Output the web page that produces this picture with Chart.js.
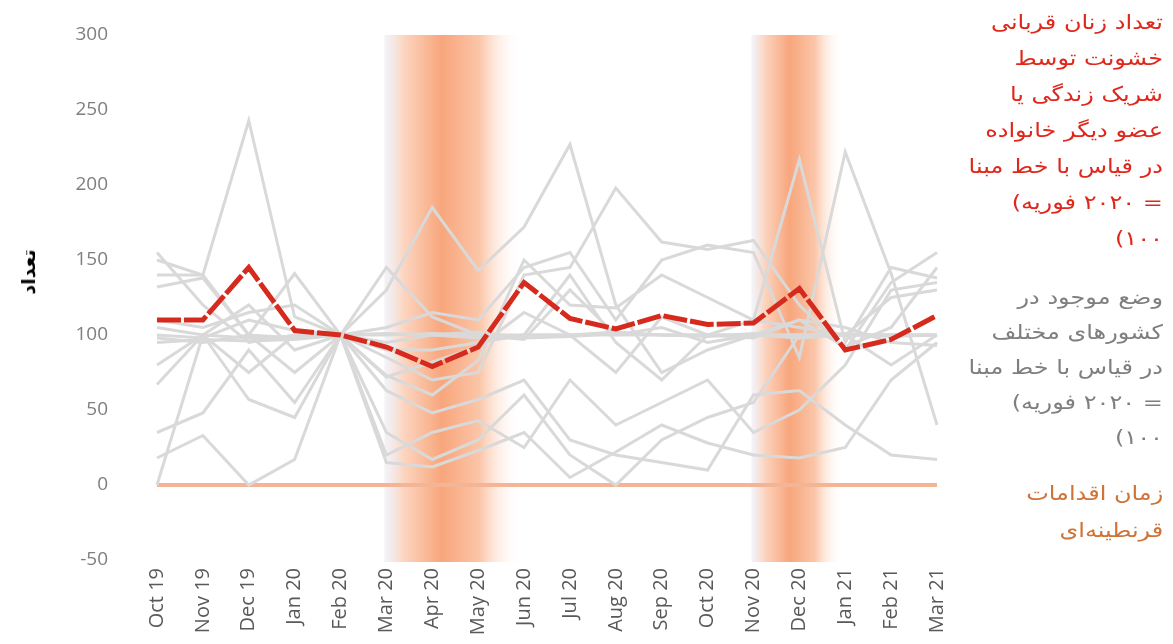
<!DOCTYPE html>
<html lang="fa">
<head>
<meta charset="UTF-8" />
<title>خشونت علیه زنان در قیاس با خط مبنا</title>
<script src="https://cdn.jsdelivr.net/npm/chart.js"></script>
<style>
  body { margin:0; background:#fff; }
  .wrap { position:relative; width:1173px; height:644px; overflow:hidden; }
  canvas { position:absolute; left:0; top:0; }
  .legend { position:absolute; right:10px; text-align:right; font-family:'DejaVu Sans',sans-serif; font-size:20px;
    white-space:nowrap; transform:scaleX(1.2); transform-origin:right center; }
  .legend div { direction:rtl; }
  .legend div.ltr { direction:ltr; }
  .legend div.ltr span { display:inline-block; direction:ltr; }
  .red { color:#e0271c; top:4px; line-height:36px; }
  .gray { color:#7f7f7f; top:280px; line-height:35px; }
  .orange { color:#cf7338; top:475px; line-height:37px; }
  .ytitle { position:absolute; left:28px; top:272px; transform:translate(-50%,-50%) rotate(-90deg);
    font-family:'DejaVu Sans',sans-serif; font-weight:bold; font-size:19px; color:#000; direction:rtl; white-space:nowrap; }
</style>
</head>
<body>
<div class="wrap">
  <canvas id="chart" width="1173" height="644"></canvas>
  <div class="ytitle">تعداد</div>
  <div class="legend red">
    <div>تعداد زنان قربانی</div>
    <div>خشونت توسط</div>
    <div>شریک زندگی یا</div>
    <div>عضو دیگر خانواده</div>
    <div>در قیاس با خط مبنا</div>
    <div class="ltr"><span>(</span><span>فوریه</span> <span>۲۰۲۰</span> <span>=</span></div>
    <div class="ltr"><span>(</span><span>۱۰۰</span></div>
  </div>
  <div class="legend gray">
    <div>وضع موجود در</div>
    <div>کشورهای مختلف</div>
    <div>در قیاس با خط مبنا</div>
    <div class="ltr"><span>(</span><span>فوریه</span> <span>۲۰۲۰</span> <span>=</span></div>
    <div class="ltr"><span>(</span><span>۱۰۰</span></div>
  </div>
  <div class="legend orange">
    <div>زمان اقدامات</div>
    <div>قرنطینه‌ای</div>
  </div>
</div>

<script>
// months (Feb 20 = 100 baseline)
const months = ['Oct 19','Nov 19','Dec 19','Jan 20','Feb 20','Mar 20','Apr 20','May 20','Jun 20',
  'Jul 20','Aug 20','Sep 20','Oct 20','Nov 20','Dec 20','Jan 21','Feb 21','Mar 21'];
const yTicks = [-50, 0, 50, 100, 150, 200, 250, 300];

// women victims of violence by partner / family member
const victims = [110,110,145,103,100,92,79,92,135,111,104,113,107,108,131,90,97,113];

// individual countries (grey)
const countryA = [155,120, 95,100,100,145,112,100, 97,130,100,105, 95,100, 98,100,100,100];
const countryB = [140,140,243,112,100, 95,100, 98,100,100,102,100,100,100,100,100,100,100];
const countryC = [132,138,100,141,100,130,185,143,172,227,120, 75, 90,100,110, 92,105,145];
const countryD = [100, 98,110,103,100, 85, 70, 75,140,145,198,162,157,163,120, 90,135,155];
const countryE = [105,100, 98, 99,100,100,101,100,100,100,100,100,100,100,100,100,100,100];
const countryF = [ 95, 97, 96, 97,100,101,100,102, 98, 99,101,100, 99,101, 98,101, 99,100];
const countryG = [ 67,100, 57, 45,100, 73, 60, 83,150,120,118,140,125,110,217, 95,145,138];
const countryH = [ 35, 48, 90, 55,100, 63, 48, 57, 70, 30, 20, 15, 10, 60, 63, 40, 20, 17];
const countryI = [ 18, 33,  0, 17,100, 35, 17, 30, 60, 20,  0, 30, 45, 55,100,100, 80,100];
const countryJ = [  0,100, 75,100,100, 15, 12, 23, 35,  5, 22, 40, 28, 20, 18, 25, 70, 95];
const countryK = [ 80,100,120, 90,100,105,115,110,145,155,110,150,160,155, 85,222,141, 40];
const countryL = [110,105,115,120,100, 20, 35, 43, 25, 70, 40, 55, 70, 35, 50, 80,130,135];
const countryM = [ 98, 95,100, 75,100, 72, 82, 92,115,100, 75,112,100, 98,110,105, 95, 93];
const countryN = [150,140,100, 98,100, 90, 90, 95,100,140, 95, 70,100,110,105,100,125,130];
const countries = [countryA,countryB,countryC,countryD,countryE,countryF,countryG,
  countryH,countryI,countryJ,countryK,countryL,countryM,countryN];

// lockdown periods, as month positions
const lockdowns = [[5, 8], [13, 15]];

const bandPlugin = {
  id: 'bands',
  beforeDraw(chart) {
    const {ctx, chartArea, scales} = chart;
    lockdowns.forEach(([a, b]) => {
      const x0 = scales.x.getPixelForValue(a) - 2;
      const x1 = scales.x.getPixelForValue(b) - 3;
      const g = ctx.createLinearGradient(x0, 0, x1, 0);
      g.addColorStop(0, 'rgba(232,232,242,0.5)');
      g.addColorStop(0.14, '#fcd5c0');
      g.addColorStop(0.42, '#f8a67c');
      g.addColorStop(0.7, '#fbc6a9');
      g.addColorStop(1, 'rgba(255,255,255,0)');
      ctx.save();
      ctx.fillStyle = g;
      ctx.fillRect(x0, chartArea.top, x1 - x0, chartArea.bottom - chartArea.top + 2);
      ctx.restore();
    });
  }
};

const datasets = [{
  data: victims, borderColor:'#d52a1d', borderWidth:5, borderDash:[24,3],
  pointRadius:0, tension:0
}].concat(countries.map(d => ({
  data: d, borderColor:'#d9d9d9', borderWidth:3, pointRadius:0, tension:0
})));

new Chart(document.getElementById('chart'), {
  type: 'line',
  data: { labels: months, datasets },
  plugins: [bandPlugin],
  options: {
    responsive:false, animation:false,
    layout: { padding: { top:35, right:236, left:0, bottom:0 } },
    plugins: { legend:{display:false}, tooltip:{enabled:false} },
    scales: {
      x: {
        offset:false,
        grid:{ display:false, drawTicks:false },
        border:{ display:false },
        ticks:{ minRotation:90, maxRotation:90, padding:8, color:'#595959',
          font:{ family:'Open Sans', size:20 } },
        afterFit: s => { s.height = 84; }
      },
      y: {
        min:-50, max:300,
        afterBuildTicks: s => { s.ticks = yTicks.map(v => ({value:v})); },
        grid:{ drawTicks:true, tickLength:49, tickColor:'rgba(0,0,0,0)',
          color: c => c.tick && c.tick.value === 0 ? '#f4b496' : 'rgba(0,0,0,0)',
          lineWidth: c => c.tick && c.tick.value === 0 ? 4 : 0 },
        border:{ display:false },
        ticks:{ padding:0, color:'#7f7f7f', font:{ family:'Open Sans', size:19 } },
        afterFit: s => { s.width = 157; }
      }
    }
  }
});
</script>
</body>
</html>
